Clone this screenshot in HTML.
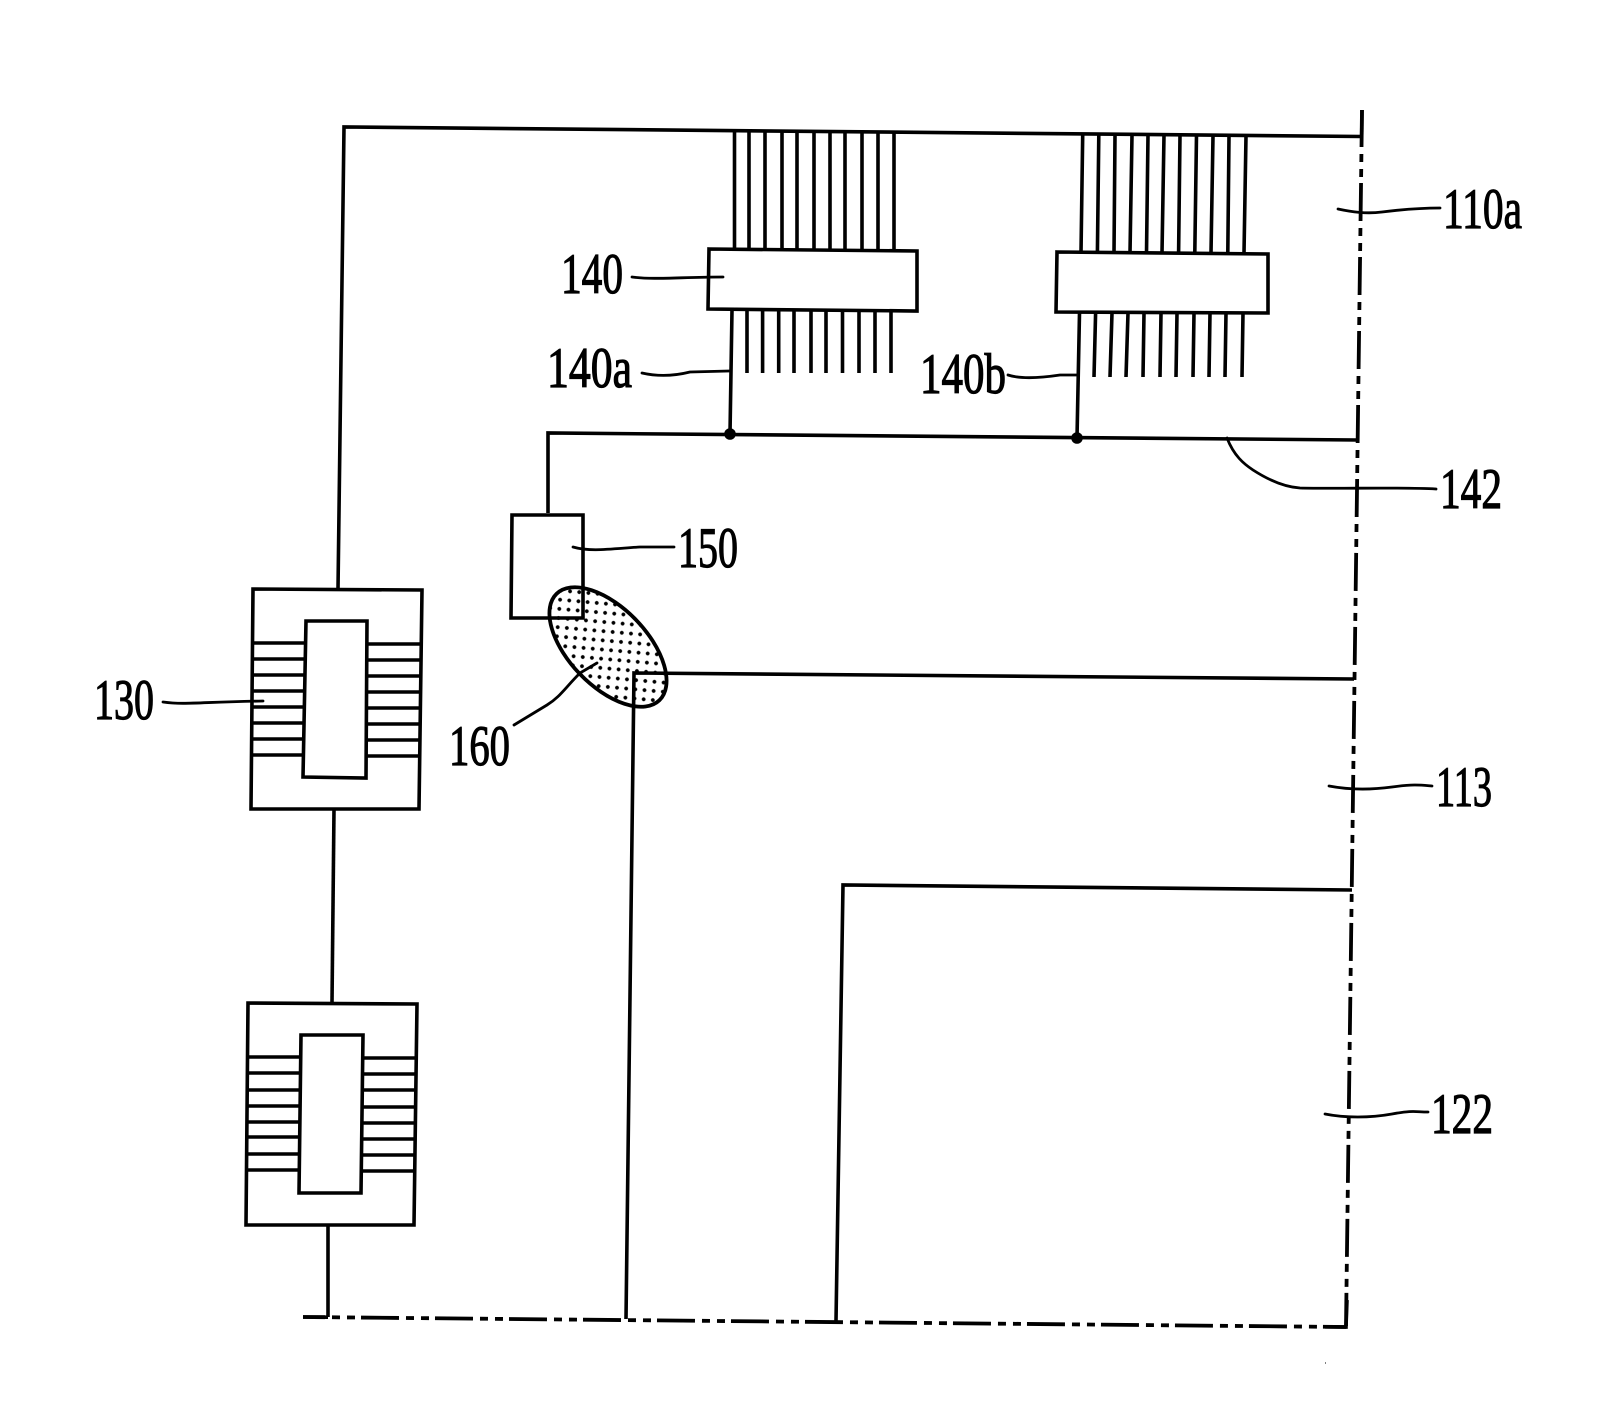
<!DOCTYPE html>
<html><head><meta charset="utf-8"><style>
html,body{margin:0;padding:0;background:#fff;width:1614px;height:1424px;overflow:hidden}
svg{display:block}
text{font-family:"Liberation Serif",serif;font-size:57px;fill:#000;stroke:#000;stroke-width:1.2}
</style></head><body>
<svg width="1614" height="1424" viewBox="0 0 1614 1424" xmlns="http://www.w3.org/2000/svg">
<defs><pattern id="d" width="13" height="13" patternUnits="userSpaceOnUse" patternTransform="translate(3 2) rotate(4)"><circle cx="3" cy="3" r="1.9" fill="#000"/><circle cx="9.5" cy="9.5" r="1.9" fill="#000"/></pattern></defs>
<g fill="none" stroke="#000" stroke-width="3.6" stroke-linejoin="miter">
<!-- ellipse -->
<ellipse cx="608" cy="647" rx="74" ry="39" transform="rotate(46 608 647)" fill="url(#d)" stroke-width="3.8"/>
<!-- main lines -->
<polyline points="338,589 344,127 1362,136.5"/>
<polyline points="1362,110 1361.7,136" />
<path d="M1362,110 L1346,1326" stroke-dasharray="38 7 8 7 8 6" stroke-dashoffset="-73" stroke-width="3.8"/>
<path d="M303,1317 L1346,1327" stroke-dasharray="38 7 8 7 8 6" stroke-dashoffset="16" stroke-width="3.8"/>
<polyline points="1325,1326.8 1346,1327 1347,1300"/>
<polyline points="303,1317 328,1317.2"/>
<polyline points="548,513 548,433 1357,440"/>
<polyline points="626,1319 634,673 1354,679"/>
<polyline points="836,1321 843,885 1352,890"/>
<!-- 140 pins -->
<path d="M734.5,130V249M749,130V249M765,130V249M782,130V249M797,130V249M814,131V249M830,131V249M845,131V250M862,131V250M878,131V250M894,131V250"/>
<path d="M732,310 L730,434M747,310V373M762.6,310V373M778.7,310V373M794,310V373M811,310V373M826,310V373M842.5,310V373M859,310V373M875,310V373M891,310V373"/>
<path d="M1082.7,135L1081,253M1098.8,135L1097.4,253M1115,135L1114,253M1132,135L1130,253M1148,135L1146.5,253M1164,135L1162,253M1180,135L1178.6,253M1196.5,135L1194.8,253M1213,136L1211,253M1229,136L1227.8,253M1246,136L1244,253"/>
<path d="M1079.5,313L1077,438M1095.6,313L1094,377M1112,313L1110,377M1128,313L1126,377M1144,313L1143,377M1161,313L1160,377M1177,313L1176,377M1194,313L1193,377M1210,313L1209,377M1226,313L1225,377M1243,313L1242,377"/>
<polygon points="709,249 917,251 917,311 708,309" fill="#fff"/>
<polygon points="1057,252 1268,254 1268,313 1056,312" fill="#fff"/>
<circle cx="730" cy="434" r="4" fill="#000"/>
<circle cx="1077" cy="438" r="4" fill="#000"/>
<!-- 150 -->
<polyline points="583,595 583,515 512,515 511,618 583,618 583,595"/>
<!-- transformer 1 -->
<polygon points="253,589 422,590 419,809 251,809"/>
<polygon points="306,621 367,621 366,778 303,777"/>
<path d="M253,643H305M253,659H305M253,675H305M252,691H305M252,707H304M252,723H304M252,739H304M252,755H303"/>
<path d="M367,644H421M367,660H421M367,676H421M367,692H420M367,708H420M367,724H420M366,740H420M366,756H420"/>
<path d="M334,809L332,1003"/>
<!-- transformer 2 -->
<polygon points="248,1003 417,1004 414,1225 246,1225"/>
<polygon points="301,1035 363,1035 361,1193 299,1193"/>
<path d="M248,1057H300M248,1073H300M248,1090H300M247,1106H300M247,1122H300M247,1137H300M247,1154H299M247,1170H299"/>
<path d="M363,1058H416M363,1074H416M362,1090H416M362,1107H415M362,1123H415M362,1139H415M362,1155H415M361,1171H415"/>
<path d="M328,1225V1317"/>
<!-- leaders -->
<g stroke-width="2.8" stroke-linecap="round">
<path d="M1338,209 C1352,212 1366,214 1382,212 S1420,208 1440,208"/>
<path d="M1227,438 C1234,456 1244,464 1253,470 C1270,481 1285,487 1300,488 C1340,489 1400,487 1436,489"/>
<path d="M573,547 C590,552 610,549 640,547 L674,547"/>
<path d="M1329,786 C1350,790 1370,790 1392,787 S1420,785 1432,786"/>
<path d="M1325,1114 C1345,1118 1370,1118 1392,1114 S1415,1112 1428,1112"/>
<path d="M597,663 L580,673 C565,688 560,697 547,705 L514,725"/>
<path d="M163,702 C185,705 200,702 263,701"/>
<path d="M632,277 C655,280 680,277 723,277"/>
<path d="M642,373 C655,376 670,377 690,372 L729,371"/>
<path d="M1008,375 C1020,379 1040,378 1060,375 L1077,375"/>
</g>
<path d="M1325,1363h1" stroke-width="1"/>
</g>
<text x="1443" y="228" textLength="79" lengthAdjust="spacingAndGlyphs">110a</text>
<text x="1440" y="508" textLength="62" lengthAdjust="spacingAndGlyphs">142</text>
<text x="678" y="567" textLength="60" lengthAdjust="spacingAndGlyphs">150</text>
<text x="449" y="765" textLength="61" lengthAdjust="spacingAndGlyphs">160</text>
<text x="94" y="719" textLength="60" lengthAdjust="spacingAndGlyphs">130</text>
<text x="561" y="293" textLength="62" lengthAdjust="spacingAndGlyphs">140</text>
<text x="547" y="387" textLength="85" lengthAdjust="spacingAndGlyphs">140a</text>
<text x="920" y="393" textLength="86" lengthAdjust="spacingAndGlyphs">140b</text>
<text x="1436" y="806" textLength="56" lengthAdjust="spacingAndGlyphs">113</text>
<text x="1431" y="1133" textLength="62" lengthAdjust="spacingAndGlyphs">122</text>
</svg>
</body></html>
